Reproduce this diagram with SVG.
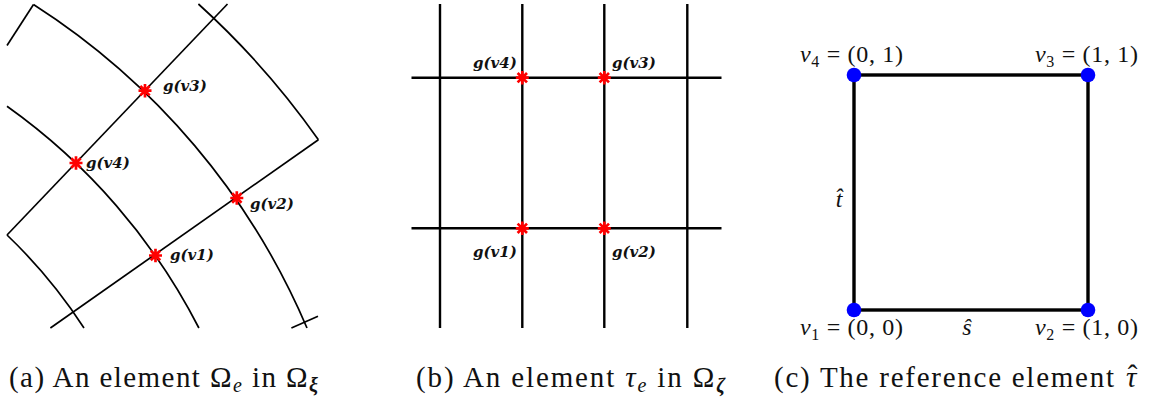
<svg xmlns="http://www.w3.org/2000/svg" width="1160" height="402" viewBox="0 0 1160 402">
<style>
.mesh{fill:none;stroke:#000;stroke-width:1.7;stroke-linecap:butt}
.grid{fill:none;stroke:#000;stroke-width:2.4}
.sq{fill:none;stroke:#000;stroke-width:3.4}
.glab{font-family:"DejaVu Serif",serif;font-weight:bold;font-style:italic;font-size:15px;fill:#111}
.cm{font-family:"Liberation Serif","Tinos","Times New Roman","DejaVu Serif",serif;fill:#111}
.it{font-style:italic}
.cap{font-size:29px}
.vl{font-size:24px}
</style>
<defs>
<g id="star"><path d="M-6.5,0H6.5M0,-6.8V6.8M-4.7,-4.7L4.7,4.7M-4.7,4.7L4.7,-4.7" stroke="#ff0000" stroke-width="2.7" fill="none"/></g>
<circle id="dot" r="7.3" fill="#0000ff"/>
</defs>

<!-- Panel (a) -->
<g id="connectors-a" class="mesh">
<path d="M7,235 L227.5,4"/>
<path d="M50.4,328 L318.4,139.7"/>
<path d="M33.5,4.5 L7,45.5"/>
<path d="M291.4,328 L318,316.3"/>
<path d="M7,235 A518.45,518.45 0 0 1 84,328"/>
<path d="M7,106.3 A618,618 0 0 1 198.9,328"/>
<path d="M33.5,4.5 A718,718 0 0 1 307,328"/>
<path d="M198.4,4 A818,818 0 0 1 318.4,139.7"/>
</g>
<g id="a-v3"><use href="#star" x="145" y="90.7"/><text class="glab" x="163" y="91">g(v3)</text></g>
<g id="a-v4"><use href="#star" x="76" y="163"/><text class="glab" x="86" y="168">g(v4)</text></g>
<g id="a-v2"><use href="#star" x="236.8" y="198"/><text class="glab" x="250" y="209">g(v2)</text></g>
<g id="a-v1"><use href="#star" x="155.5" y="255.5"/><text class="glab" x="170" y="260">g(v1)</text></g>

<!-- Panel (b) -->
<g id="connectors-b" class="grid">
<path d="M440,4V328M522.3,4V328M604.3,4V328M687.3,4V328"/>
<path d="M411.5,77.7H721.5M411.5,228.3H721.5"/>
</g>
<g id="b-v4"><use href="#star" x="522.3" y="77.7"/><text class="glab" x="473" y="68">g(v4)</text></g>
<g id="b-v3"><use href="#star" x="604.3" y="77.7"/><text class="glab" x="612" y="68">g(v3)</text></g>
<g id="b-v1"><use href="#star" x="522.3" y="228.3"/><text class="glab" x="473" y="257">g(v1)</text></g>
<g id="b-v2"><use href="#star" x="604.3" y="228.3"/><text class="glab" x="612" y="257">g(v2)</text></g>

<!-- Panel (c) -->
<g id="connectors-c">
<rect class="sq" x="854" y="75" width="234" height="235"/>
</g>
<g id="c-v4"><use href="#dot" x="854" y="75"/><text class="cm vl" x="800" y="62" textLength="103"><tspan class="it">v</tspan><tspan font-size="16" dy="5">4</tspan><tspan dy="-5"> = (0, 1)</tspan></text></g>
<g id="c-v3"><use href="#dot" x="1088" y="75"/><text class="cm vl" x="1035" y="62" textLength="103"><tspan class="it">v</tspan><tspan font-size="16" dy="5">3</tspan><tspan dy="-5"> = (1, 1)</tspan></text></g>
<g id="c-v1"><use href="#dot" x="854" y="310"/><text class="cm vl" x="800" y="335" textLength="103"><tspan class="it">v</tspan><tspan font-size="16" dy="5">1</tspan><tspan dy="-5"> = (0, 0)</tspan></text></g>
<g id="c-v2"><use href="#dot" x="1088" y="310"/><text class="cm vl" x="1035" y="335" textLength="103"><tspan class="it">v</tspan><tspan font-size="16" dy="5">2</tspan><tspan dy="-5"> = (1, 0)</tspan></text></g>
<g id="c-s"><text class="cm vl it" x="967" y="335" text-anchor="middle">ŝ</text></g>
<g id="c-t"><text class="cm vl it" x="839" y="207" text-anchor="middle">t̂</text></g>

<!-- Captions -->
<g id="caption-a"><text class="cm cap" x="9" y="387" textLength="309">(a) An element Ω<tspan class="it" font-size="20" dy="5">e</tspan><tspan dy="-5"> in Ω</tspan><tspan font-size="20" font-weight="bold" font-style="italic" dy="5">ξ</tspan></text></g>
<g id="caption-b"><text class="cm cap" x="416" y="387" textLength="309">(b) An element <tspan class="it">τ</tspan><tspan class="it" font-size="20" dy="5">e</tspan><tspan dy="-5"> in Ω</tspan><tspan font-size="20" font-weight="bold" font-style="italic" dy="5">ζ</tspan></text></g>
<g id="caption-c"><text class="cm cap" x="774" y="387" textLength="340">(c) The reference element</text><text class="cm cap" x="1126" y="387"><tspan class="it">τ</tspan><tspan dx="-8.6" dy="-2">ˆ</tspan></text></g>
</svg>
